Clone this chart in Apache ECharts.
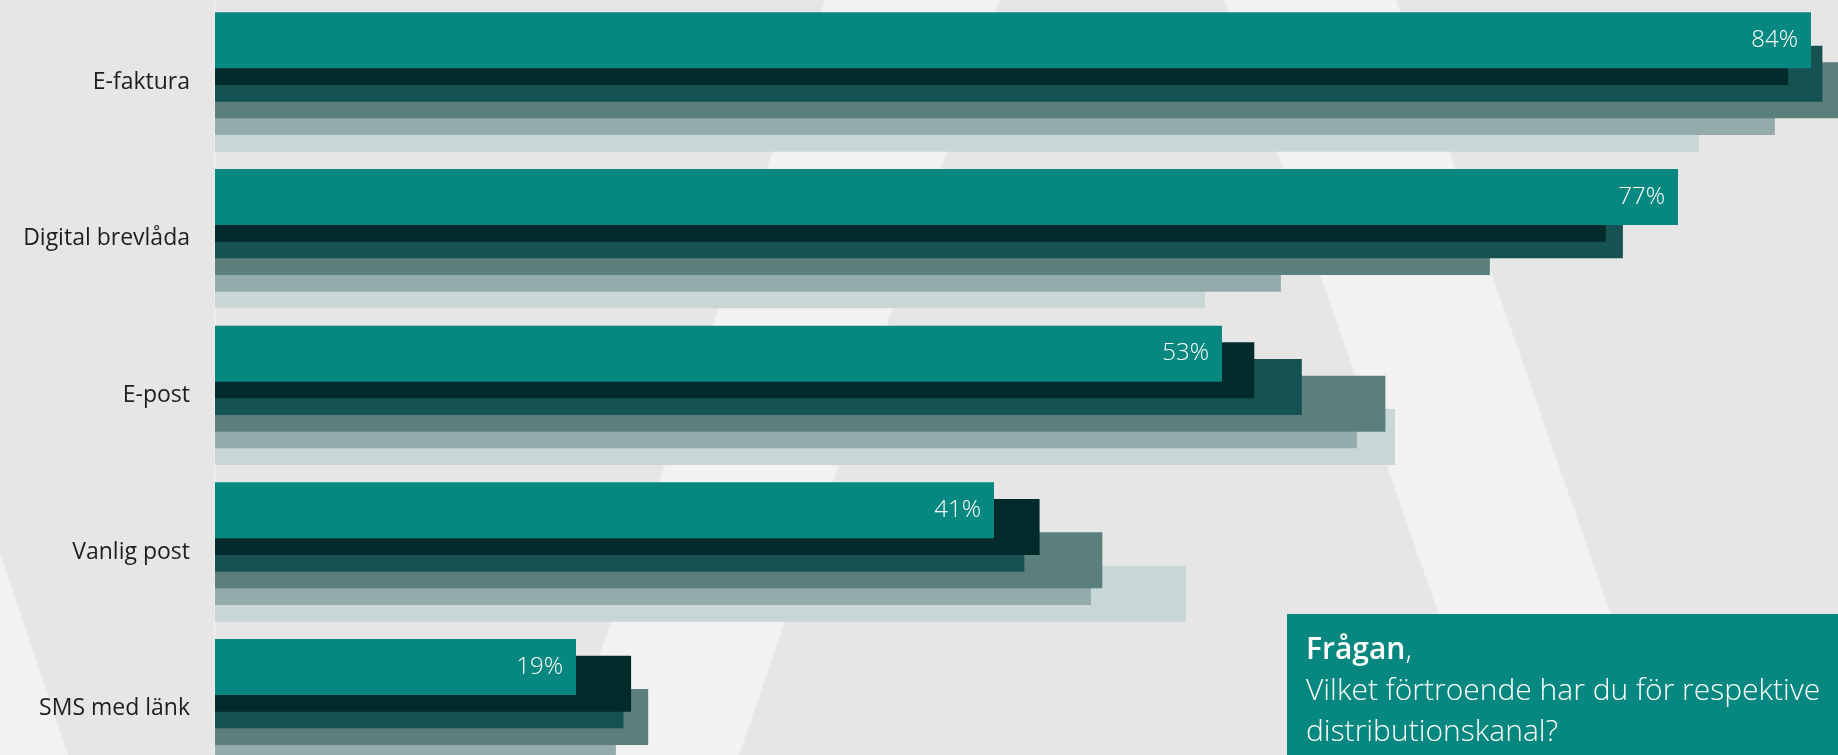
<!DOCTYPE html>
<html>
<head>
<meta charset="utf-8">
<script src="https://cdn.jsdelivr.net/npm/echarts@6/dist/echarts.min.js"></script>
<style>
  html, body { margin: 0; padding: 0; background: #E6E6E6; overflow: hidden; }
  /* the drawing surface runs past the window; the last group and the longest bars are cut at the edges */
  #chart { width: 2120px; height: 800px; }
</style>
</head>
<body>
<div id="chart"></div>
<script>
// Distribution channels, top to bottom
const categories = ['E-faktura', 'Digital brevlåda', 'E-post', 'Vanlig post', 'SMS med länk'];

// Six measurement layers per channel; serie1 is the front (labelled) bar
const serie1 = [84, 77, 53, 41, 19];
const serie2 = [82.8, 73.2, 54.7, 43.4, 21.9];
const serie3 = [84.6, 74.1, 57.2, 42.6, 21.5];
const serie4 = [86.5, 67.1, 61.6, 46.7, 22.8];
const serie5 = [82.1, 56.1, 60.1, 46.1, 21.1];
const serie6 = [78.1, 52.1, 62.1, 51.1, 18.0];

const questionTitle = 'Frågan';
const questionText = ['Vilket förtroende har du för respektive', 'distributionskanal?'];

const layers = [serie1, serie2, serie3, serie4, serie5, serie6];
const layerColors = ['#06877F', '#012A2A', '#175253', '#5B7F7D', '#93ABAB', '#C9D6D6'];
const FONT = '"Open Sans", Lato, sans-serif';

const series = layers.map((data, i) => ({
  type: 'bar',
  name: 'serie' + (i + 1),
  data: data,
  barWidth: 56,
  barGap: '-70.24%',
  z: 20 - i,
  itemStyle: { color: layerColors[i] },
  label: i === 0 ? {
    show: true,
    position: 'insideRight',
    distance: 13,
    formatter: '{c}%',
    color: '#FFFFFF',
    fontFamily: FONT,
    fontWeight: 300,
    fontSize: 24
  } : { show: false },
  emphasis: { disabled: true },
  animation: false
}));

const chart = echarts.init(document.getElementById('chart'), null, { renderer: 'canvas' });
chart.setOption({
  backgroundColor: '#E6E6E6',
  animation: false,
  grid: { left: 215, top: 3.67, width: 1900, height: 783.3, containLabel: false },
  xAxis: {
    type: 'value', min: 0, max: 100, show: false
  },
  yAxis: {
    type: 'category',
    data: categories,
    inverse: true,
    axisTick: { show: false },
    axisLine: { show: true, lineStyle: { color: '#EDEDED', width: 2 } },
    axisLabel: {
      margin: 25,
      color: '#1E1E1E',
      fontFamily: FONT,
      fontSize: 23
    }
  },
  graphic: [
    // light diagonal stripes in the backdrop
    { type: 'polygon', z: -10, silent: true,
      shape: { points: [[1224, 0], [1396, 0], [1660, 755], [1488, 755]] },
      style: { fill: '#F2F2F2' } },
    { type: 'polygon', z: -10, silent: true,
      shape: { points: [[825, 0], [999, 0], [739, 755], [565, 755]] },
      style: { fill: '#F2F2F2' } },
    { type: 'polygon', z: -10, silent: true,
      shape: { points: [[0, 553], [68, 755], [0, 755]] },
      style: { fill: '#F2F2F2' } },
    // question box
    { type: 'rect', z: 100, silent: true,
      shape: { x: 1287, y: 614, width: 700, height: 200 },
      style: { fill: '#06877F' } },
    { type: 'text', z: 101, silent: true,
      x: 1306, y: 630,
      style: {
        text: '{b|' + questionTitle + '}{n|,}\n{n|' + questionText[0] + '}\n{n|' + questionText[1] + '}',
        fill: '#FFFFFF',
        rich: {
          b: { fontFamily: FONT, fontWeight: 600, fontSize: 30, lineHeight: 41, fill: '#FFFFFF' },
          n: { fontFamily: FONT, fontWeight: 300, fontSize: 30, lineHeight: 41, fill: '#FFFFFF' }
        }
      } }
  ],
  series: series
});
</script>
</body>
</html>
